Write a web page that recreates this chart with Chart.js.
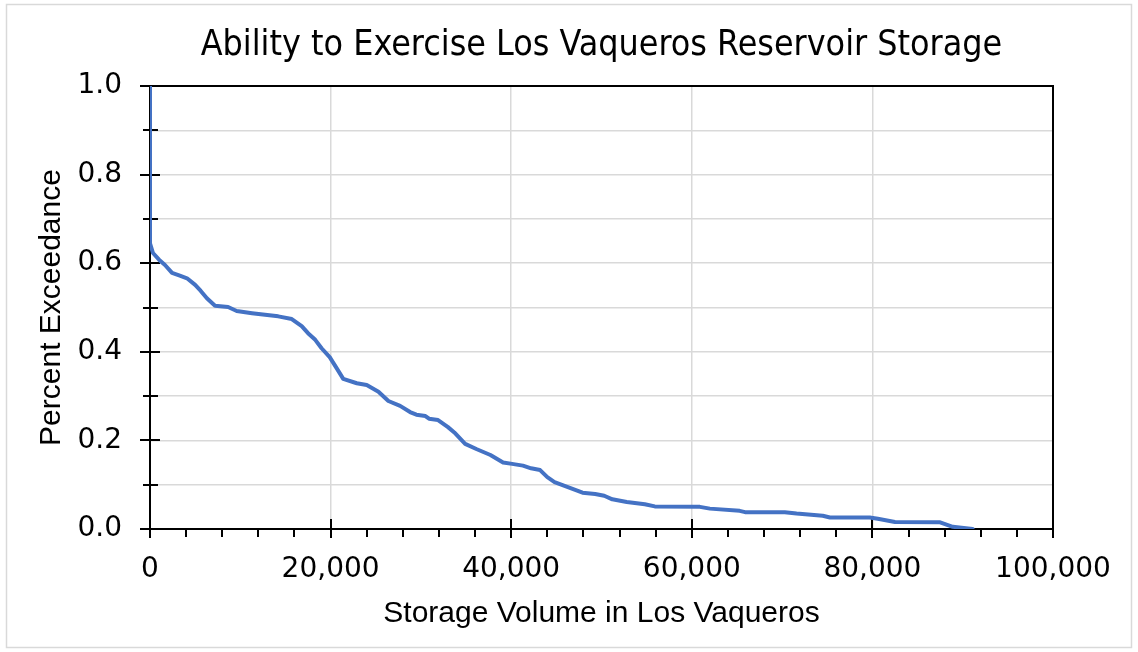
<!DOCTYPE html>
<html>
<head>
<meta charset="utf-8">
<script src="https://cdn.jsdelivr.net/npm/chart.js@4.4.1/dist/chart.umd.min.js"></script>
<style>
  html, body { margin: 0; padding: 0; background: #ffffff; }
  #wrap { width: 1138px; height: 652px; position: relative; }
</style>
</head>
<body>
<div id="wrap"><canvas id="c" width="1138" height="652"></canvas></div>
<script>
// ---- Data ----
const chartTitle = 'Ability to Exercise Los Vaqueros Reservoir Storage';
const xAxisTitle = 'Storage Volume in Los Vaqueros';
const yAxisTitle = 'Percent Exceedance';

const storageVolume = [
  0, 0, 330, 1000, 1660, 2440, 3300, 4100, 5000, 5600,
  6300, 7200, 8650, 9600, 11300, 12500, 14200, 15700, 16800, 17500,
  18300, 19000, 19900, 20700, 21400, 22900, 24000, 25300, 26400, 27700,
  28800, 29500, 30500, 30900, 31900, 33000, 33700, 34900, 36200, 37700,
  39100, 40100, 41300, 42200, 43200, 44000, 44800, 46500, 47900, 49300,
  50300, 51200, 52800, 54800, 55900, 60900, 62000, 65300, 65900, 70300,
  71600, 74500, 75300, 79700, 80600, 82500, 87500, 88900, 91100
];
const percentExceedance = [
  1.000, 0.645, 0.623, 0.608, 0.596, 0.578, 0.572, 0.566, 0.551, 0.538,
  0.521, 0.504, 0.501, 0.492, 0.487, 0.484, 0.480, 0.474, 0.458, 0.442,
  0.427, 0.408, 0.388, 0.362, 0.339, 0.329, 0.325, 0.310, 0.289, 0.278,
  0.264, 0.258, 0.255, 0.249, 0.246, 0.230, 0.218, 0.192, 0.180, 0.167,
  0.150, 0.147, 0.143, 0.137, 0.133, 0.117, 0.106, 0.093, 0.082, 0.079,
  0.075, 0.067, 0.061, 0.056, 0.051, 0.050, 0.046, 0.041, 0.038, 0.038,
  0.035, 0.030, 0.026, 0.026, 0.023, 0.016, 0.015, 0.005, 0.000
];

const xTickLabels = ['0', '20,000', '40,000', '60,000', '80,000', '100,000'];
const yTickLabels = ['0.0', '0.2', '0.4', '0.6', '0.8', '1.0'];
const xMajorStep = 20000, xMinorStep = 4000, yMinorStep = 0.1;

// ---- Plugins: frame, tick marks, outer border ----
const outerBorder = {
  id: 'outerBorder',
  beforeDraw(chart) {
    const ctx = chart.ctx;
    ctx.save();
    ctx.fillStyle = '#ffffff';
    ctx.fillRect(0, 0, chart.width, chart.height);
    ctx.strokeStyle = '#d9d9d9';
    ctx.lineWidth = 1.5;
    ctx.strokeRect(6.5, 4.5, chart.width - 13, chart.height - 9);
    ctx.restore();
  }
};

const axisFrame = {
  id: 'axisFrame',
  beforeDatasetsDraw(chart) {
    const { ctx, chartArea: a, scales: { x, y } } = chart;
    ctx.save();
    ctx.strokeStyle = '#000000';
    ctx.lineWidth = 2;
    ctx.strokeRect(a.left, a.top, a.right - a.left, a.bottom - a.top);
    ctx.beginPath();
    const nx = Math.round((x.max - x.min) / xMinorStep);
    for (let i = 0; i <= nx; i++) {
      const v = x.min + i * xMinorStep;
      const px = Math.round(x.getPixelForValue(v));
      const major = Math.round(v) % xMajorStep === 0;
      ctx.moveTo(px, major ? a.bottom - 10 : a.bottom);
      ctx.lineTo(px, a.bottom + (major ? 9 : 8));
    }
    const ny = Math.round((y.max - y.min) / yMinorStep);
    for (let i = 0; i <= ny; i++) {
      const py = Math.round(y.getPixelForValue(y.min + i * yMinorStep));
      const major = i % 2 === 0;
      ctx.moveTo(a.left - (major ? 10 : 7), py);
      ctx.lineTo(a.left + (major ? 10 : 8), py);
    }
    ctx.stroke();
    ctx.restore();
  }
};

const points = storageVolume.map((v, i) => ({ x: v, y: percentExceedance[i] }));

const tickFont = { family: '"DejaVu Sans", sans-serif', size: 28 };
const axisTitleFont = { family: '"Liberation Sans", Arial, sans-serif', size: 30 };

new Chart(document.getElementById('c'), {
  type: 'line',
  data: {
    datasets: [{
      data: points,
      borderColor: '#4472C4',
      borderWidth: 4,
      borderJoinStyle: 'round',
      borderCapStyle: 'round',
      pointRadius: 0,
      tension: 0,
      fill: false
    }]
  },
  options: {
    responsive: false,
    animation: false,
    devicePixelRatio: 1,
    layout: { padding: { left: 4, right: 85, top: 0, bottom: 0 } },
    plugins: {
      legend: { display: false },
      tooltip: { enabled: false },
      title: {
        display: true,
        text: chartTitle,
        fullSize: false,
        color: '#000000',
        font: { family: '"Liberation Sans Narrow", "DejaVu Sans Condensed", "Liberation Sans", sans-serif', size: 35.5, weight: 'normal' },
        padding: { top: 24, bottom: 19.4 }
      }
    },
    scales: {
      x: {
        type: 'linear',
        min: 0,
        max: 100000,
        ticks: {
          stepSize: xMajorStep,
          autoSkip: false,
          maxRotation: 0,
          color: '#000000',
          font: tickFont,
          padding: 24,
          callback: (v) => xTickLabels[Math.round(v / xMajorStep)]
        },
        grid: { color: '#d9d9d9', lineWidth: 1.5, drawTicks: false, tickLength: 0 },
        border: { display: false },
        title: {
          display: true,
          text: xAxisTitle,
          color: '#000000',
          font: axisTitleFont,
          padding: { top: 0, bottom: 20.5 }
        },
        afterFit: (s) => { s.height = 123; }
      },
      y: {
        type: 'linear',
        min: 0,
        max: 1,
        ticks: {
          stepSize: yMinorStep,
          autoSkip: false,
          color: '#000000',
          font: tickFont,
          padding: 28,
          callback: (v) => {
            const n = Math.round(v * 10);
            return n % 2 === 0 ? yTickLabels[n / 2] : '';
          }
        },
        grid: { color: '#d9d9d9', lineWidth: 1.5, drawTicks: false, tickLength: 0 },
        border: { display: false },
        title: {
          display: true,
          text: yAxisTitle,
          color: '#000000',
          font: axisTitleFont,
          padding: { top: 30, bottom: 0 }
        },
        afterFit: (s) => { s.width = 146; }
      }
    }
  },
  plugins: [outerBorder, axisFrame]
});
</script>
</body>
</html>
